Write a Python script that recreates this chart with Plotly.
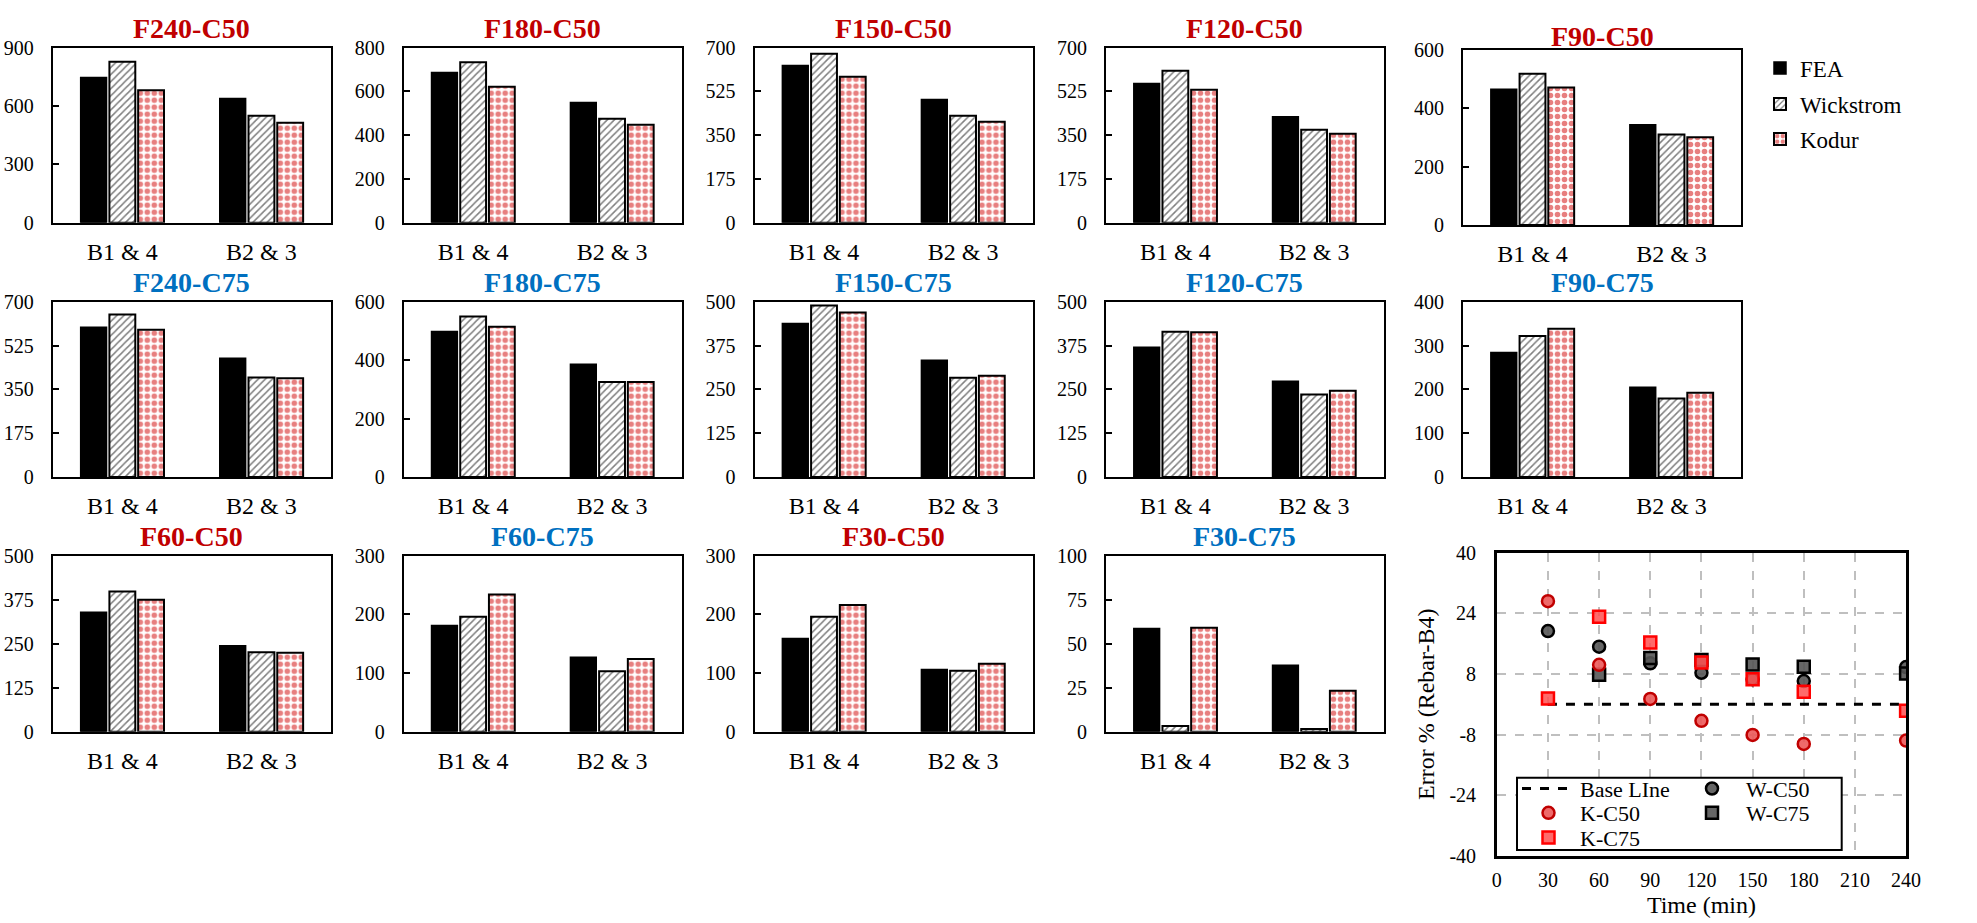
import plotly.graph_objects as go

W, H = 1977, 923
FONT = "Liberation Serif"

# ---------------- data ----------------
categories = ["B1 & 4", "B2 & 3"]
panel_titles = ["F240-C50", "F180-C50", "F150-C50", "F120-C50", "F90-C50",
                "F240-C75", "F180-C75", "F150-C75", "F120-C75", "F90-C75",
                "F60-C50", "F60-C75", "F30-C50", "F30-C75"]
fea = [[747, 639], [687, 549], [629, 493], [557, 424], [465, 344],
       [598, 474], [498, 386], [438, 333], [370, 273], [284, 205],
       [339, 244], [181, 127], [159, 106], [58.7, 37.7]]
wickstrom = [[828, 550], [733, 475], [676, 428], [608, 372], [519, 310],
             [649, 397], [549, 325], [489, 283], [414, 235], [322, 179],
             [398, 226], [196, 103], [196, 104], [3.2, 1.5]]
kodur = [[681, 514], [622, 448], [584, 404], [532, 356], [471, 301],
         [588, 394], [514, 325], [469, 289], [413, 246], [338, 192],
         [375, 224], [234, 124], [216, 116], [59.1, 23.3]]
y_max = [900, 800, 700, 700, 600, 700, 600, 500, 500, 400, 500, 300, 300, 100]
y_step = [300, 200, 175, 175, 200, 175, 200, 125, 125, 100, 125, 100, 100, 25]

times = [30, 60, 90, 120, 150, 180, 240]
k_c50 = [27.2, 10.4, 1.4, -4.4, -8.1, -10.5, -9.6]
k_c75 = [1.5, 23.1, 16.3, 11.0, 6.6, 3.3, -1.7]
w_c50 = [19.3, 15.2, 10.8, 8.3, 6.6, 6.1, 9.8]
w_c75 = [None, 7.8, 12.2, 11.7, 10.5, 9.9, 8.1]
base_x = [30, 240]
base_y = [0, 0]
err_ticks = [-40, -24, -8, 8, 24, 40]
err_ticktext = ["-40", "-24", "-8", "8", "24", "40"]
time_ticks = [0, 30, 60, 90, 120, 150, 180, 210, 240]

# ---------------- layout geometry (pixels) ----------------
col_x = [(52.8, 331.0), (403.7, 681.5), (754.5, 1032.6), (1106.0, 1383.5), (1463.0, 1741.0)]
row_y = [(47.7, 222.7), (301.7, 477.0), (555.7, 731.7)]
special_y = {4: (50.0, 225.0)}
title_off = {4: 13.5}
C50_RED = "#C00000"
C75_BLUE = "#0070C0"


def px_x(v):
    return v / W


def px_y(v):
    return 1 - v / H


fig = go.Figure()
layout = dict(width=W, height=H, margin=dict(l=0, r=0, t=0, b=0, autoexpand=False),
              paper_bgcolor="white", plot_bgcolor="white",
              font=dict(family=FONT, color="black", size=20),
              barmode="group", bargap=0.38, bargroupgap=0.1,
              annotations=[], shapes=[])

for i, title in enumerate(panel_titles):
    r, c = divmod(i, 5)
    x0, x1 = col_x[c]
    y0, y1 = special_y.get(i, row_y[r])
    xa = "xaxis" if i == 0 else f"xaxis{i + 1}"
    ya = "yaxis" if i == 0 else f"yaxis{i + 1}"
    xr = "x" if i == 0 else f"x{i + 1}"
    yr = "y" if i == 0 else f"y{i + 1}"
    layout[xa] = dict(domain=[px_x(x0), px_x(x1)], anchor=yr, type="category",
                      showline=True, linecolor="black", linewidth=2, mirror=True,
                      ticks="", showgrid=False, tickfont=dict(size=24, family=FONT),
                      ticklabelstandoff=6, automargin=False, fixedrange=True)
    layout[ya] = dict(domain=[px_y(y1), px_y(y0)], anchor=xr, range=[0, y_max[i]],
                      tick0=0, dtick=y_step[i], showline=True, linecolor="black",
                      linewidth=2, mirror=True, ticks="inside", ticklen=6,
                      tickwidth=2, tickcolor="black", showgrid=False, zeroline=False,
                      tickfont=dict(size=20, family=FONT), ticklabelstandoff=13,
                      automargin=False, fixedrange=True)
    first = i == 0
    fig.add_trace(go.Bar(x=categories, y=fea[i], name="FEA", xaxis=xr, yaxis=yr,
                         marker=dict(color="black", line=dict(color="black", width=1.5)),
                         showlegend=first, legend="legend"))
    fig.add_trace(go.Bar(x=categories, y=wickstrom[i], name="Wickstrom", xaxis=xr, yaxis=yr,
                         marker=dict(color="white", line=dict(color="black", width=2),
                                     pattern=dict(shape="/", fgcolor="black", bgcolor="white",
                                                  size=5, solidity=0.3)),
                         showlegend=first, legend="legend2"))
    fig.add_trace(go.Bar(x=categories, y=kodur[i], name="Kodur", xaxis=xr, yaxis=yr,
                         marker=dict(color="white", line=dict(color="black", width=2),
                                     pattern=dict(shape=".", fgcolor="#D00000", bgcolor="white",
                                                  size=7, solidity=0.5)),
                         showlegend=first, legend="legend3"))
    color = C50_RED if title.endswith("C50") else C75_BLUE
    off = title_off.get(i, 19.3)
    layout["annotations"].append(dict(
        text=f"<b>{title}</b>", x=px_x((x0 + x1) / 2), y=px_y(y0 - off),
        xref="paper", yref="paper", xanchor="center", yanchor="middle",
        showarrow=False, font=dict(size=28, color=color, family=FONT)))

# bar legends (one entry each)
bar_leg_y = [68, 104, 139]
for k, ly in enumerate(bar_leg_y):
    name = "legend" if k == 0 else f"legend{k + 1}"
    layout[name] = dict(x=px_x(1760), y=px_y(ly), xanchor="left", yanchor="middle",
                        bgcolor="rgba(0,0,0,0)", borderwidth=0,
                        font=dict(size=23, family=FONT, color="black"))

# ---------------- scatter panel ----------------
sx0, sx1, sy0, sy1 = 1496.8, 1906.1, 552.7, 855.7
layout["xaxis15"] = dict(domain=[px_x(sx0), px_x(sx1)], anchor="y15", range=[0, 240],
                         tickvals=time_ticks, showline=True, linecolor="black",
                         linewidth=2.5, mirror=True, ticks="", showgrid=True,
                         gridcolor="#BFBFBF", griddash="dash", gridwidth=1.5,
                         zeroline=False, tickfont=dict(size=20, family=FONT),
                         ticklabelstandoff=5, automargin=False,
                         title=dict(text="Time (min)", font=dict(size=24, family=FONT),
                                    standoff=6), fixedrange=True)
layout["yaxis15"] = dict(domain=[px_y(sy1), px_y(sy0)], anchor="x15", range=[-40, 40],
                         tickvals=err_ticks, ticktext=err_ticktext, showline=True,
                         linecolor="black", linewidth=2.5, mirror=True, ticks="",
                         showgrid=True, gridcolor="#BFBFBF", griddash="dash",
                         gridwidth=1.5, zeroline=False, automargin=False,
                         tickfont=dict(size=20, family=FONT), ticklabelstandoff=14,
                         title=dict(text="Error % (Rebar-B4)", font=dict(size=24, family=FONT),
                                    standoff=8), fixedrange=True)

fig.add_trace(go.Scatter(x=base_x, y=base_y, mode="lines", name="Base LIne",
                         line=dict(color="black", width=3, dash="dash"),
                         xaxis="x15", yaxis="y15", legend="legend4"))
fig.add_trace(go.Scatter(x=times, y=w_c50, mode="markers", name="W-C50",
                         marker=dict(symbol="circle", size=12, color="rgba(85,85,85,0.9)",
                                     line=dict(color="black", width=2.5)),
                         xaxis="x15", yaxis="y15", legend="legend7"))
fig.add_trace(go.Scatter(x=times, y=w_c75, mode="markers", name="W-C75",
                         marker=dict(symbol="square", size=12, color="rgba(85,85,85,0.9)",
                                     line=dict(color="black", width=2.5)),
                         xaxis="x15", yaxis="y15", legend="legend8"))
fig.add_trace(go.Scatter(x=times, y=k_c50, mode="markers", name="K-C50",
                         marker=dict(symbol="circle", size=12, color="rgba(236,90,90,0.9)",
                                     line=dict(color="#C00000", width=2.5)),
                         xaxis="x15", yaxis="y15", legend="legend5"))
fig.add_trace(go.Scatter(x=times, y=k_c75, mode="markers", name="K-C75",
                         marker=dict(symbol="square", size=12, color="rgba(255,80,80,0.85)",
                                     line=dict(color="#FF0000", width=2.5)),
                         xaxis="x15", yaxis="y15", legend="legend6"))

# scatter legend box
layout["shapes"].append(dict(type="rect", xref="paper", yref="paper",
                             x0=px_x(1517), x1=px_x(1841.7), y0=px_y(850), y1=px_y(777.7),
                             line=dict(color="black", width=2), fillcolor="white",
                             layer="above"))
sc_leg = {"legend4": (1517, 788.7, 53), "legend5": (1517, 813.0, 53),
          "legend6": (1517, 837.7, 53), "legend7": (1678, 788.7, 58),
          "legend8": (1678, 813.0, 58)}
for name, (lx, ly, iw) in sc_leg.items():
    layout[name] = dict(x=px_x(lx), y=px_y(ly), xanchor="left", yanchor="middle",
                        bgcolor="rgba(0,0,0,0)", borderwidth=0, itemwidth=iw,
                        font=dict(size=22, family=FONT, color="black"))

fig.update_layout(**layout)
fig.write_html("out.html")
